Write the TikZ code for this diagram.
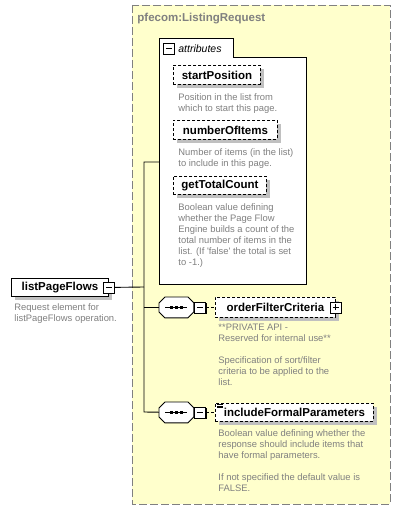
\documentclass[tikz,border=0pt]{standalone}
\usepackage{fontspec}
\setmainfont{Liberation Sans}
\usetikzlibrary{shadows,positioning}
\definecolor{xsdyellow}{HTML}{FFFFCC}
\definecolor{xsdgray}{HTML}{808080}
\definecolor{xsdshadow}{HTML}{C0C0C0}

\begin{document}
\begin{tikzpicture}[x=1pt, y=-1pt, line width=0.9pt,
    elem/.style={draw, fill=white, anchor=north west, inner sep=0pt,
        font=\bfseries\fontsize{11.5}{13}\selectfont,
        drop shadow={shadow xshift=4pt, shadow yshift=-4pt, fill=xsdshadow, opacity=1}},
    optelem/.style={elem, dash pattern=on 3pt off 2pt},
    desc/.style={anchor=north west, inner sep=0pt, align=left, text=xsdgray,
        font=\fontsize{9.4}{11}\selectfont},
    toggle/.style={draw, fill=white, minimum size=11pt, inner sep=0pt},
    minus/.style={toggle, path picture={\draw ([xshift=2.5pt]path picture bounding box.west) -- ([xshift=-2.5pt]path picture bounding box.east);}},
    plus/.style={toggle, path picture={
        \draw ([xshift=2.5pt]path picture bounding box.west) -- ([xshift=-2.5pt]path picture bounding box.east);
        \draw ([yshift=2.5pt]path picture bounding box.south) -- ([yshift=-2.5pt]path picture bounding box.north);}},
    seq/.style={minimum width=34pt, minimum height=20pt, inner sep=0pt, anchor=north west}
]
    \useasboundingbox[fill=white] (0,0) rectangle (401,510);

    % complex type
    \draw[draw=xsdgray, fill=xsdyellow, dash pattern=on 8pt off 3pt] (132,5) rectangle (390,504);
    \node[anchor=north west, inner sep=0pt, text=xsdgray, font=\bfseries\fontsize{11.5}{13}\selectfont] (title) at (137,13) {pfecom:ListingRequest};

    % attributes
    \draw[fill=white] (159,284) -- (159,38) -- (233,38) -- (233,57) -- (306,57) -- (306,284) -- cycle;
    \node[minus, anchor=north west] (attrm) at (163,43) {};
    \node[right=3pt of attrm, inner sep=0pt, font=\itshape\fontsize{10.5}{11}\selectfont] (attrlbl) {attributes};

    \node[optelem, minimum width=87pt, minimum height=19pt] (sp) at (173,65) {startPosition};
    \node[desc] (spd) at (178,93) {Position in the list from\\which to start this page.};
    \node[optelem, minimum width=104pt, minimum height=19pt] (noi) at (173,120) {numberOfItems};
    \node[desc] (noid) at (178,148) {Number of items (in the list)\\to include in this page.};
    \node[optelem, minimum width=93pt, minimum height=18pt] (gtc) at (173,176) {getTotalCount};
    \node[desc] (gtcd) at (178,203) {Boolean value defining\\whether the Page Flow\\Engine builds a count of the\\total number of items in the\\list. (If \textquotesingle false\textquotesingle\ the total is set\\to -1.)};

    % bus
    \coordinate (attr) at (159,162);
    \coordinate (busTop) at (144,162);
    \coordinate (busMid) at (144,287);
    \coordinate (busBot) at (144,412);

    % root element
    \node[elem, minimum width=97pt, minimum height=18pt] (lpf) at (11,278) {listPageFlows\hspace{6pt}};
    \node[minus] (lpfm) at (lpf.east) {};
    \node[desc] (lpfd) at (14,303) {Request element for\\listPageFlows operation.};

    % sequences
    \node[seq] (seq1) at (159,297) {};
    \node[seq] (seq2) at (159,402) {};
    \foreach \s in {seq1,seq2} {
        \fill[xsdshadow, shift={(3,3)}] ([xshift=6pt]\s.north west) -- ([xshift=-6pt]\s.north east) -- ([yshift=-6pt]\s.north east) -- ([yshift=6pt]\s.south east) -- ([xshift=-6pt]\s.south east) -- ([xshift=6pt]\s.south west) -- ([yshift=6pt]\s.south west) -- ([yshift=-6pt]\s.north west) -- cycle;
        \draw[fill=white] ([xshift=6pt]\s.north west) -- ([xshift=-6pt]\s.north east) -- ([yshift=-6pt]\s.north east) -- ([yshift=6pt]\s.south east) -- ([xshift=-6pt]\s.south east) -- ([xshift=6pt]\s.south west) -- ([yshift=6pt]\s.south west) -- ([yshift=-6pt]\s.north west) -- cycle;
        \draw[line width=1.5pt] ([xshift=-11pt]\s.center) -- ([xshift=11pt]\s.center);
        \foreach \dx in {-5,0,5}
            \fill ([xshift=\dx pt]\s.center) +(-1.5,-1.5) rectangle +(1.5,1.5);
    }
    \node[minus, anchor=west, drop shadow={shadow xshift=1.5pt, shadow yshift=-1.5pt, fill=black, opacity=1}] (seq1m) at (seq1.east) {};
    \node[minus, anchor=west, drop shadow={shadow xshift=1.5pt, shadow yshift=-1.5pt, fill=black, opacity=1}] (seq2m) at (seq2.east) {};

    \node[optelem, minimum width=120pt, minimum height=20pt] (ofc) at (215,297) {orderFilterCriteria\hspace{6pt}};
    \node[plus] (ofcp) at (ofc.east) {};
    \node[desc] (ofcd) at (218,324) {**PRIVATE API -\\Reserved for internal use**\\[11pt]Specification of sort/filter\\criteria to be applied to the\\list.};

    \node[optelem, minimum width=158pt, minimum height=18pt] (ifp) at (215,403) {includeFormalParameters};
    \foreach \dy in {1.5,3,4.5}
        \draw[line width=0.5pt] ([xshift=2pt, yshift=-\dy pt]ifp.north west) -- ++(6,0);
    \node[desc] (ifpd) at (218,429) {Boolean value defining whether the\\response should include items that\\have formal parameters.\\[11pt]If not specified the default value is\\FALSE.};

    % connectors
    \draw (lpfm) -- (busMid);
    \draw (attr) -- (busTop) -- (busBot) -- (seq2);
    \draw (seq1.west) -- (seq1.west -| busTop);
    \draw[dash pattern=on 3pt off 2pt] (seq1m) -- (ofc);
    \draw[dash pattern=on 3pt off 2pt] (seq2m) -- (ifp);
\end{tikzpicture}
\end{document}
